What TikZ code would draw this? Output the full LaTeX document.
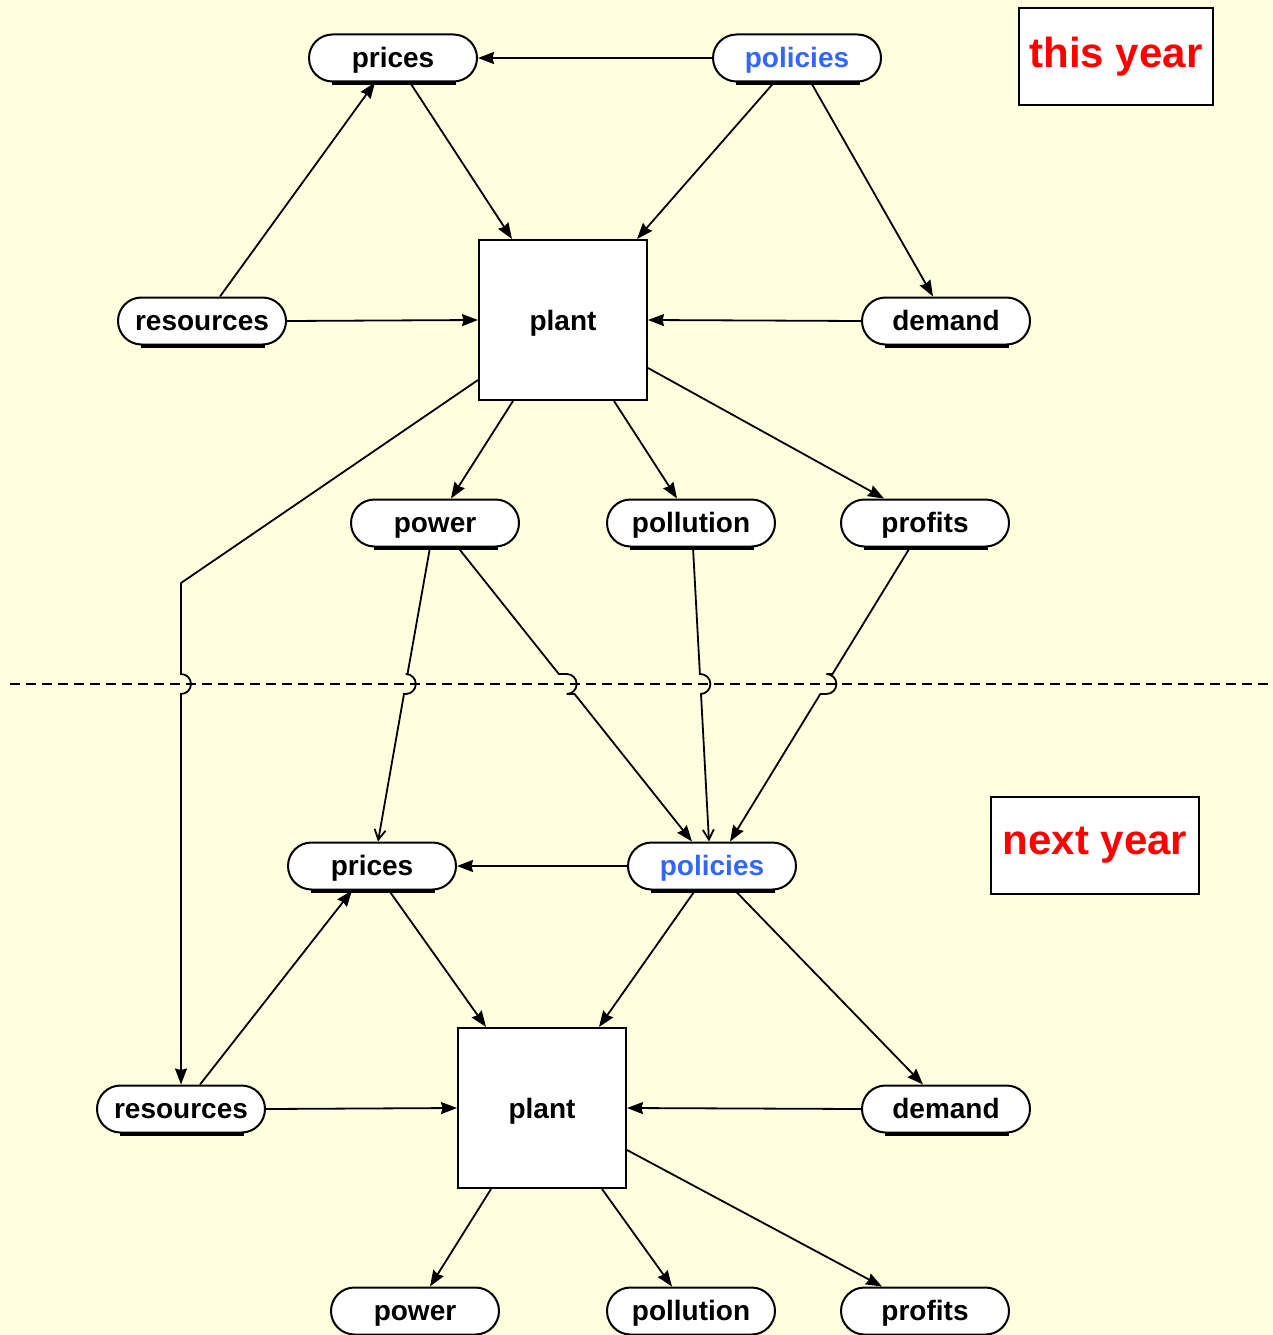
\documentclass[tikz,border=0pt]{standalone}
\usepackage{fontspec}
\setmainfont{Liberation Sans}
\usetikzlibrary{arrows.meta,calc}
\definecolor{bg}{RGB}{255,255,224}
\definecolor{polblue}{RGB}{51,102,255}
\begin{document}
\begin{tikzpicture}[x=1pt,y=-1pt,
  pill/.style={draw, line width=2pt, fill=white, rounded corners=23.5pt, minimum width=168pt, minimum height=47pt, inner sep=0pt, text height=23pt, text depth=4pt, font=\fontsize{28}{30}\selectfont\bfseries},
  plantbox/.style={draw, line width=2pt, fill=white, minimum width=168pt, minimum height=160pt, inner sep=0pt, text height=23pt, text depth=3pt, font=\fontsize{28}{30}\selectfont\bfseries},
  yearbox/.style={draw, line width=2pt, fill=white, minimum width=194pt, minimum height=97pt, inner sep=0pt, text=red, font=\fontsize{42}{46}\selectfont\bfseries},
  arr/.style={line width=1.8pt, -{Stealth[length=16pt,width=12pt,inset=1.5pt]}},
  oarr/.style={line width=1.8pt, -{Straight Barb[length=10pt,width=11pt]}},
  divider/.style={line width=2pt, dash pattern=on 10pt off 6pt},
]
\fill[bg] (0,0) rectangle (1273,1335);
\useasboundingbox (0,0) rectangle (1273,1335);

% this year
\node[pill] (pri1) at (393,58) {prices};
\node[pill, text=polblue] (pol1) at (797,58) {policies};
\node[yearbox] (ty) at (1116,57) {this year};
\node[pill] (res1) at (202,321) {resources};
\node[plantbox] (plant1) at (563,320) {plant};
\node[pill] (dem1) at (946,321) {demand};
\node[pill] (pow1) at (435,523) {power};
\node[pill] (pollu1) at (691,523) {pollution};
\node[pill] (prof1) at (925,523) {profits};

% next year
\node[pill] (pri2) at (372,866) {prices};
\node[pill, text=polblue] (pol2) at (712,866) {policies};
\node[yearbox, minimum width=208pt] (ny) at (1095,845) {next year};
\node[pill] (res2) at (181,1109) {resources};
\node[plantbox] (plant2) at (542,1108) {plant};
\node[pill] (dem2) at (946,1109) {demand};
\node[pill] (pow2) at (415,1311) {power};
\node[pill] (pollu2) at (691,1311) {pollution};
\node[pill] (prof2) at (925,1311) {profits};

% shadow strokes under the pills
\foreach \n in {pri1,pol1,res1,dem1,pow1,pollu1,prof1,pri2,pol2,res2,dem2,pow2,pollu2,prof2}{
  \draw[line width=2.4pt] ([xshift=24pt,yshift=-0.9pt]\n.south west) -- ([xshift=-22pt,yshift=-0.9pt]\n.south east);
}

% divider
\draw[divider] (10,684) -- (1273,684);

% this year edges
\draw[arr] (pol1.west) -- (pri1.east);
\draw[arr] ([xshift=18pt]res1.north) -- ([xshift=-18pt]pri1.south);
\draw[arr] ([xshift=17pt]pri1.south) -- ([xshift=-51pt]plant1.north);
\draw[arr] ([xshift=-23pt]pol1.south) -- ([xshift=74pt]plant1.north);
\draw[arr] ([xshift=14pt]pol1.south) -- ([xshift=-13pt]dem1.north);
\draw[arr] (res1.east) -- (plant1.west);
\draw[arr] (dem1.west) -- (plant1.east);
\draw[arr] ([xshift=-50pt]plant1.south) -- ([xshift=16pt]pow1.north);
\draw[arr] ([xshift=51pt]plant1.south) -- ([xshift=-14pt]pollu1.north);
\draw[arr] ([yshift=-48pt]plant1.east) -- ([xshift=-41pt]prof1.north);

% edges across the divider
\coordinate (bend) at (181,583);
\draw[arr] ([yshift=-60pt]plant1.west) -- (bend) -- (181,674)
  arc[start angle=90, end angle=-90, radius=10pt] -- (res2.north);
\draw[oarr] ([xshift=-5pt]pow1.south) -- (407.5,674) -- (405.8,674)
  arc[start angle=90, end angle=-90, radius=10pt] -- (404.0,694) -- ([xshift=6pt]pri2.north);
\draw[arr] ([xshift=23pt]pow1.south) -- (558.8,674) -- (566.7,674)
  arc[start angle=90, end angle=-90, radius=10pt] -- (574.6,694) -- ([xshift=-20pt]pol2.north);
\draw[oarr] ([xshift=2pt]pollu1.south) -- (699.9,674) -- (700.4,674)
  arc[start angle=90, end angle=-90, radius=10pt] -- (701.0,694) -- ([xshift=-3pt]pol2.north);
\draw[arr] ([xshift=-15pt]prof1.south) -- (832.5,674) -- (826.4,674)
  arc[start angle=90, end angle=-90, radius=10pt] -- (820.3,694) -- ([xshift=18pt]pol2.north);

% next year edges
\draw[arr] (pol2.west) -- (pri2.east);
\draw[arr] ([xshift=19pt]res2.north) -- ([xshift=-20pt]pri2.south);
\draw[arr] ([xshift=17pt]pri2.south) -- ([xshift=-56pt]plant2.north);
\draw[arr] ([xshift=-17pt]pol2.south) -- ([xshift=57pt]plant2.north);
\draw[arr] ([xshift=23pt]pol2.south) -- ([xshift=-23pt]dem2.north);
\draw[arr] (res2.east) -- (plant2.west);
\draw[arr] (dem2.west) -- (plant2.east);
\draw[arr] ([xshift=-51pt]plant2.south) -- ([xshift=15pt]pow2.north);
\draw[arr] ([xshift=60pt]plant2.south) -- ([xshift=-19pt]pollu2.north);
\draw[arr] ([yshift=-42pt]plant2.east) -- ([xshift=-43pt]prof2.north);
\end{tikzpicture}
\end{document}
